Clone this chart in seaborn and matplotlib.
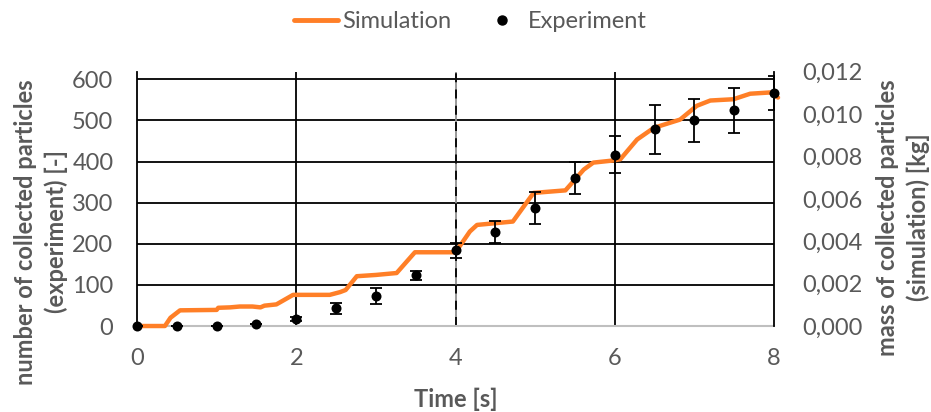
import matplotlib
matplotlib.use("Agg")
import matplotlib.pyplot as plt
import seaborn as sns
import pandas as pd
from matplotlib.ticker import FuncFormatter
from matplotlib.lines import Line2D

# ---- data ----
exp_time = [0, 0.5, 1.0, 1.5, 2.0, 2.5, 3.0, 3.5, 4.0, 4.5, 5.0, 5.5, 6.0, 6.5, 7.0, 7.5, 8.0]
exp_count = [0, 0, 0, 6, 16, 43, 73, 123, 184, 229, 286, 360, 416, 478, 500, 525, 567]
exp_err = [0, 0, 0, 0, 5, 14, 20, 10, 18, 27, 39, 39, 45, 59, 52, 55, 41]

sim_time = [0, 0.35, 0.42, 0.54, 1.0, 1.02, 1.17, 1.29, 1.45, 1.55, 1.6, 1.75, 1.96,
            2.42, 2.55, 2.62, 2.76, 3.0, 3.26, 3.49, 4.0, 4.18, 4.27, 4.72, 4.98,
            5.38, 5.61, 5.73, 5.98, 6.07, 6.28, 6.49, 6.82, 7.03, 7.2, 7.49, 7.7, 7.95, 8.05]
sim_mass = [0, 0, 0.00039, 0.00074, 0.00076, 0.00086, 0.00088, 0.00092, 0.00092, 0.00088,
            0.00096, 0.00102, 0.00147, 0.00147, 0.00160, 0.00170, 0.00235, 0.00241, 0.00250,
            0.00348, 0.00348, 0.00446, 0.00477, 0.00493, 0.00628, 0.00640, 0.00738, 0.00771,
            0.00781, 0.00787, 0.00880, 0.00935, 0.00974, 0.01039, 0.01064, 0.01070, 0.01096,
            0.01102, 0.01078]

x_ticks = [0, 2, 4, 6, 8]
left_ticks = [0, 100, 200, 300, 400, 500, 600]
right_ticks = [0, 0.002, 0.004, 0.006, 0.008, 0.010, 0.012]

exp_df = pd.DataFrame({"t": exp_time, "n": exp_count, "err": exp_err})
sim_df = pd.DataFrame({"t": sim_time, "m": sim_mass})

# ---- style ----
sns.set_style("white")
plt.rcParams["font.family"] = ["Lato", "DejaVu Sans"]
TXT = "#595959"
ORANGE = "#FF7F27"
FS = 17

fig = plt.figure(figsize=(9.31, 4.12), dpi=100)
ax = fig.add_axes([0.1472, 0.2087, 0.6842, 0.6173])
ax2 = ax.twinx()
ax3 = ax.twinx()

ax.set_xlim(0, 8)
ax.set_ylim(0, 618.5)
ax2.set_ylim(0, 0.012)
ax3.set_ylim(0, 618.5)

# grid (on bottom axes)
for v in left_ticks[1:]:
    ax.axhline(v, color="black", lw=1.3, zorder=1)
for v in [2, 6]:
    ax.axvline(v, color="black", lw=1.3, zorder=1)
ax.axvline(4, color="#909090", lw=1.3, zorder=1)
ax.axvline(4, color="black", lw=1.3, ls=(0, (5, 4)), zorder=1)

# simulation
sns.lineplot(data=sim_df, x="t", y="m", ax=ax2, color=ORANGE, lw=3.2, legend=False)
for ln in ax2.lines:
    ln.set_clip_on(False)

# experiment
ax3.errorbar(exp_df["t"], exp_df["n"], yerr=exp_df["err"], fmt="none",
             ecolor="black", elinewidth=1.3, capsize=4.5, capthick=1.3, zorder=2)
sns.scatterplot(data=exp_df, x="t", y="n", ax=ax3, color="black", s=52,
                edgecolor="black", linewidth=0, zorder=3, legend=False)
for c in ax3.collections:
    c.set_clip_on(False)

# spines
for a in (ax, ax2, ax3):
    a.spines["top"].set_visible(False)
    a.patch.set_visible(False)
ax.spines["left"].set_color("black")
ax.spines["left"].set_linewidth(1.3)
ax.spines["bottom"].set_color("#BFBFBF")
ax.spines["bottom"].set_linewidth(1.5)
ax.spines["right"].set_visible(False)
ax2.spines["left"].set_visible(False)
ax2.spines["bottom"].set_visible(False)
ax2.spines["right"].set_color("black")
ax2.spines["right"].set_linewidth(1.3)
for s in ax3.spines.values():
    s.set_visible(False)
ax3.set_yticks([])
ax3.set_ylabel("")
ax3.set_xlabel("")

# ticks
ax.set_xticks(x_ticks)
ax.set_xticklabels([str(v) for v in x_ticks])
ax.set_yticks(left_ticks)
ax.set_yticklabels([str(v) for v in left_ticks])
ax2.set_yticks(right_ticks)
ax2.yaxis.set_major_formatter(FuncFormatter(lambda v, p: f"{v:.3f}".replace(".", ",")))
ax.tick_params(axis="x", length=0, pad=16, labelsize=FS, labelcolor=TXT)
ax.tick_params(axis="y", length=0, pad=17, labelsize=FS, labelcolor=TXT)
ax2.tick_params(axis="y", length=0, pad=20, labelsize=FS, labelcolor=TXT)

# labels
ax.set_xlabel("Time [s]", fontsize=FS, fontweight="bold", color=TXT)
ax.xaxis.set_label_coords(0.5, -0.244)
ax.xaxis.label.set_va("top")
ax.set_ylabel("number of collected particles\n(experiment) [-]", fontsize=FS,
              fontweight="bold", color=TXT, linespacing=1.4)
ax.yaxis.set_label_coords(-0.108, 0.37)
ax2.set_ylabel("mass of collected particles\n(simulation) [kg]", fontsize=FS,
               fontweight="bold", color=TXT, linespacing=1.4)
ax2.yaxis.set_label_coords(1.160, 0.427)

# legend
handles = [Line2D([], [], color=ORANGE, lw=3.5),
           Line2D([], [], color="black", marker="o", ls="none", markersize=6.5)]
leg = fig.legend(handles, ["Simulation", "Experiment"], loc="center",
                 bbox_to_anchor=(0.505, 0.947), ncol=2, frameon=False,
                 fontsize=FS, handlelength=1.9, handletextpad=0.15,
                 columnspacing=1.2, labelcolor=TXT)

fig.savefig("out.png", dpi=100)
